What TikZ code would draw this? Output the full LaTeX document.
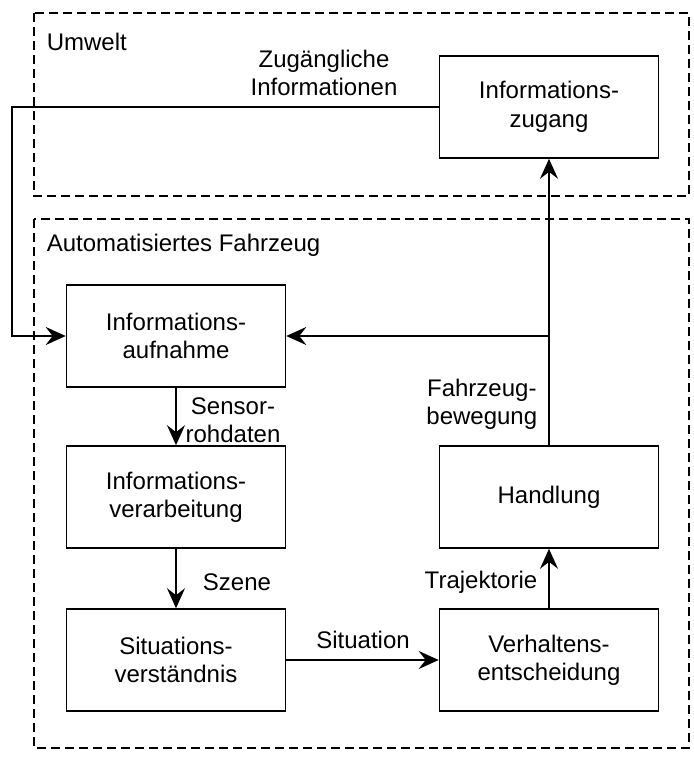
\documentclass[tikz,border=0pt]{standalone}
\usepackage{fontspec}
\setmainfont{Liberation Sans}
\usetikzlibrary{arrows.meta}

\begin{document}
\begin{tikzpicture}[x=0.5pt, y=-0.5pt, line width=0.8pt,
    >={Stealth[length=10pt, width=9pt, inset=3.5pt]},
    font=\fontsize{12}{14.2}\selectfont,
    block/.style={draw, minimum width=109.5pt, minimum height=51pt, align=center, inner sep=0pt},
    bereich/.style={draw, dash pattern=on 4.5pt off 2.5pt, line width=0.7pt},
    beschr/.style={align=center, inner sep=1pt}]
    \useasboundingbox (0,0) rectangle (693,758);

    % Bereiche (gestrichelt)
    \draw[bereich] (34,13) rectangle (689,196);
    \draw[bereich] (34,219) rectangle (689,748);
    \node[anchor=west, inner sep=0pt] (umwelt) at (46,42) {Umwelt};
    \node[anchor=west, inner sep=0pt] (fahrzeug) at (46,245) {Automatisiertes Fahrzeug};

    % Bloecke
    \node[block] (zugang) at (549,107) {Informations-\\zugang};
    \node[block] (aufnahme) at (176,336) {Informations-\\aufnahme};
    \node[block] (verarb) at (176,497) {Informations-\\verarbeitung};
    \node[block] (situation) at (176,660) {Situations-\\verständnis};
    \node[block] (verhalten) at (549,660) {Verhaltens-\\entscheidung};
    \node[block] (handlung) at (549,497) {Handlung};

    % Hilfspunkte
    \coordinate (links) at (12,107);
    \coordinate (abzweig) at (handlung.north |- aufnahme.east);

    % Pfeile
    \draw[->] (zugang.west) -- (links) |- (aufnahme.west);
    \draw[->] (aufnahme) -- (verarb);
    \draw[->] (verarb) -- (situation);
    \draw[->] (situation) -- (verhalten);
    \draw[->] (verhalten) -- (handlung);
    \draw[->] (handlung.north) -- (zugang.south);
    \draw[->] (abzweig) -- (aufnahme.east);

    % Beschriftungen
    \node[beschr] (zugInfo) at (324,73) {Zugängliche\\Informationen};
    \node[beschr] (sensor) at (233,420) {Sensor-\\rohdaten};
    \node[beschr] (szene) at (237,582) {Szene};
    \node[beschr] (sit) at (363,640) {Situation};
    \node[beschr, anchor=east] (trajekt) at (540,582) {Trajektorie};
    \node[beschr, anchor=east] (bewegung) at (540,404) {Fahrzeug-\\bewegung};
\end{tikzpicture}
\end{document}
